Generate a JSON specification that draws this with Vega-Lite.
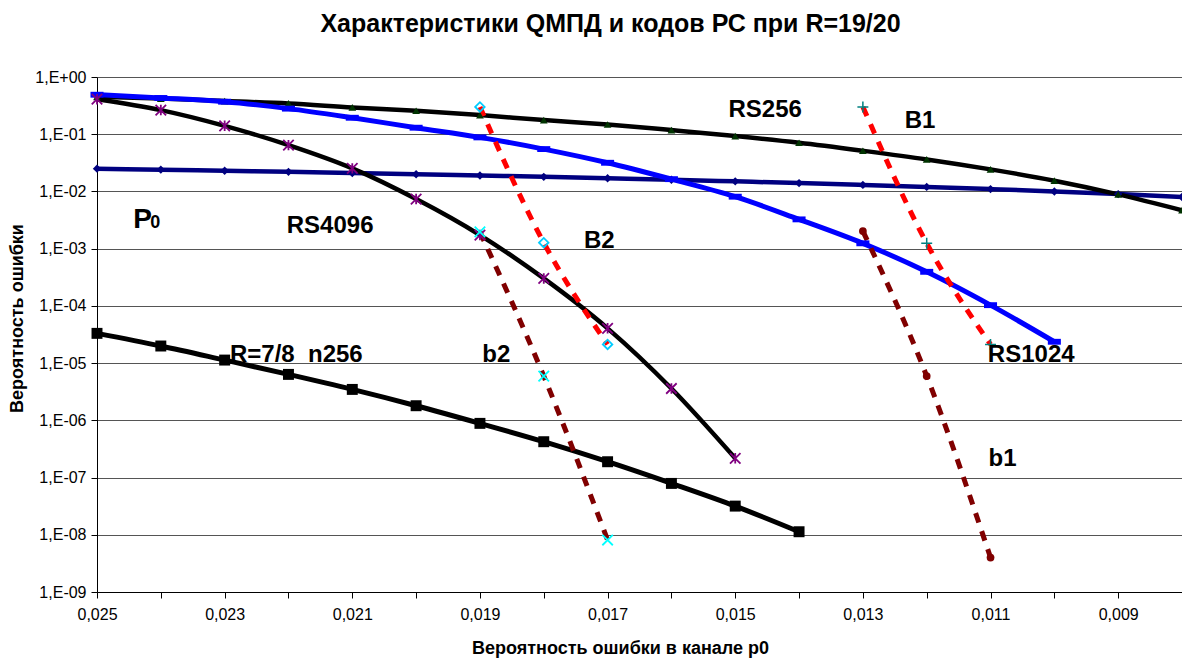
{
  "$schema": "https://vega.github.io/schema/vega-lite/v6.json",
  "width": 1085,
  "height": 515,
  "autosize": "none",
  "padding": {"left": 97, "top": 77, "right": 0, "bottom": 72},
  "background": "white",
  "title": {"text": "Характеристики QМПД и кодов РС при R=19/20", "font": "Liberation Sans", "fontSize": 25, "fontWeight": "bold", "color": "black", "anchor": "middle", "frame": "group", "dx": -29, "offset": 32},
  "config": {"view": {"stroke": null}, "font": "Liberation Sans"},
  "datasets": {
    "curves": [
      {"series": "P0", "p": 0.025, "P": 0.025}, {"series": "P0", "p": 0.024, "P": 0.024}, {"series": "P0", "p": 0.023, "P": 0.023}, {"series": "P0", "p": 0.022, "P": 0.022}, {"series": "P0", "p": 0.021, "P": 0.021}, {"series": "P0", "p": 0.020, "P": 0.020}, {"series": "P0", "p": 0.019, "P": 0.019}, {"series": "P0", "p": 0.018, "P": 0.018}, {"series": "P0", "p": 0.017, "P": 0.017}, {"series": "P0", "p": 0.016, "P": 0.016}, {"series": "P0", "p": 0.015, "P": 0.015}, {"series": "P0", "p": 0.014, "P": 0.014}, {"series": "P0", "p": 0.013, "P": 0.013}, {"series": "P0", "p": 0.012, "P": 0.012}, {"series": "P0", "p": 0.011, "P": 0.011}, {"series": "P0", "p": 0.010, "P": 0.010}, {"series": "P0", "p": 0.009, "P": 0.009}, {"series": "P0", "p": 0.008, "P": 0.008},
      {"series": "RS256", "p": 0.025, "P": 0.45}, {"series": "RS256", "p": 0.024, "P": 0.42}, {"series": "RS256", "p": 0.023, "P": 0.38}, {"series": "RS256", "p": 0.022, "P": 0.345}, {"series": "RS256", "p": 0.021, "P": 0.294}, {"series": "RS256", "p": 0.020, "P": 0.257}, {"series": "RS256", "p": 0.019, "P": 0.216}, {"series": "RS256", "p": 0.018, "P": 0.177}, {"series": "RS256", "p": 0.017, "P": 0.148}, {"series": "RS256", "p": 0.016, "P": 0.118}, {"series": "RS256", "p": 0.015, "P": 0.093}, {"series": "RS256", "p": 0.014, "P": 0.071}, {"series": "RS256", "p": 0.013, "P": 0.0514}, {"series": "RS256", "p": 0.012, "P": 0.0363}, {"series": "RS256", "p": 0.011, "P": 0.0243}, {"series": "RS256", "p": 0.010, "P": 0.0154}, {"series": "RS256", "p": 0.009, "P": 0.0089}, {"series": "RS256", "p": 0.008, "P": 0.0047},
      {"series": "RS1024", "p": 0.025, "P": 0.49}, {"series": "RS1024", "p": 0.024, "P": 0.43}, {"series": "RS1024", "p": 0.023, "P": 0.37}, {"series": "RS1024", "p": 0.022, "P": 0.28}, {"series": "RS1024", "p": 0.021, "P": 0.194}, {"series": "RS1024", "p": 0.020, "P": 0.13}, {"series": "RS1024", "p": 0.019, "P": 0.088}, {"series": "RS1024", "p": 0.018, "P": 0.055}, {"series": "RS1024", "p": 0.017, "P": 0.0317}, {"series": "RS1024", "p": 0.016, "P": 0.0164}, {"series": "RS1024", "p": 0.015, "P": 0.0081}, {"series": "RS1024", "p": 0.014, "P": 0.00325}, {"series": "RS1024", "p": 0.013, "P": 0.00124}, {"series": "RS1024", "p": 0.012, "P": 0.000394}, {"series": "RS1024", "p": 0.011, "P": 0.000103}, {"series": "RS1024", "p": 0.010, "P": 0.0000236},
      {"series": "RS4096", "p": 0.025, "P": 0.41}, {"series": "RS4096", "p": 0.024, "P": 0.264}, {"series": "RS4096", "p": 0.023, "P": 0.14}, {"series": "RS4096", "p": 0.022, "P": 0.0645}, {"series": "RS4096", "p": 0.021, "P": 0.0253}, {"series": "RS4096", "p": 0.020, "P": 0.00736}, {"series": "RS4096", "p": 0.019, "P": 0.00173}, {"series": "RS4096", "p": 0.018, "P": 0.000302}, {"series": "RS4096", "p": 0.017, "P": 0.0000405}, {"series": "RS4096", "p": 0.016, "P": 0.0000036}, {"series": "RS4096", "p": 0.015, "P": 0.000000217},
      {"series": "R78", "p": 0.025, "P": 0.0000331}, {"series": "R78", "p": 0.024, "P": 0.0000199}, {"series": "R78", "p": 0.023, "P": 0.0000113}, {"series": "R78", "p": 0.022, "P": 0.00000635}, {"series": "R78", "p": 0.021, "P": 0.00000347}, {"series": "R78", "p": 0.020, "P": 0.0000018}, {"series": "R78", "p": 0.019, "P": 0.000000885}, {"series": "R78", "p": 0.018, "P": 0.000000423}, {"series": "R78", "p": 0.017, "P": 0.000000189}, {"series": "R78", "p": 0.016, "P": 0.000000079}, {"series": "R78", "p": 0.015, "P": 0.0000000317}, {"series": "R78", "p": 0.014, "P": 0.0000000113},
      {"series": "B2", "p": 0.019, "P": 0.30}, {"series": "B2", "p": 0.018, "P": 0.00127}, {"series": "B2", "p": 0.017, "P": 0.0000212},
      {"series": "b2", "p": 0.019, "P": 0.00197}, {"series": "b2", "p": 0.018, "P": 0.00000594}, {"series": "b2", "p": 0.017, "P": 0.0000000081},
      {"series": "B1", "p": 0.013, "P": 0.30}, {"series": "B1", "p": 0.012, "P": 0.00124}, {"series": "B1", "p": 0.011, "P": 0.0000212},
      {"series": "b1", "p": 0.013, "P": 0.00203}, {"series": "b1", "p": 0.012, "P": 0.00000594}, {"series": "b1", "p": 0.011, "P": 0.000000004}
    ],
    "labels": [
      {"text": "RS256", "p": 0.015105, "P": 0.2016},
      {"text": "B1", "p": 0.012344, "P": 0.1264},
      {"text": "RS4096", "p": 0.022027, "P": 0.001873},
      {"text": "B2", "p": 0.01737, "P": 0.001012},
      {"text": "R=7/8  n256", "p": 0.022917, "P": 0.0000103},
      {"text": "b2", "p": 0.018964, "P": 0.00001056},
      {"text": "RS1024", "p": 0.011042, "P": 0.0000103},
      {"text": "b1", "p": 0.011031, "P": 0.0000001589}
    ],
    "plabel": [{"text": "P", "p": 0.024433, "P": 0.00229}],
    "zlabel": [{"text": "0", "p": 0.024167, "P": 0.00229}]
  },
  "encoding": {
    "x": {
      "field": "p", "type": "quantitative",
      "scale": {"domain": [0.008, 0.025], "reverse": true, "nice": false, "zero": false},
      "axis": {
        "values": [0.025, 0.024, 0.023, 0.022, 0.021, 0.020, 0.019, 0.018, 0.017, 0.016, 0.015, 0.014, 0.013, 0.012, 0.011, 0.010, 0.009, 0.008],
        "labelExpr": "round(datum.value*1000)%2==1 ? replace(format(datum.value,'.3f'),'.',',') : ''",
        "grid": false, "tickSize": 6, "tickColor": "black", "domainColor": "black",
        "labelFont": "Liberation Sans", "labelFontSize": 16, "labelColor": "black", "labelPadding": 8,
        "labelFlush": false, "labelOverlap": false,
        "title": "Вероятность ошибки в канале p0", "titleFont": "Liberation Sans", "titleFontSize": 18, "titleFontWeight": "bold", "titleColor": "black",
        "titleX": 523, "titleY": 56, "titleBaseline": "middle", "titleAlign": "center"
      }
    },
    "y": {
      "field": "P", "type": "quantitative",
      "scale": {"type": "log", "domain": [0.000000001, 1], "nice": false},
      "axis": {
        "values": [1, 0.1, 0.01, 0.001, 0.0001, 0.00001, 0.000001, 0.0000001, 0.00000001, 0.000000001],
        "labelExpr": "datum.value >= 0.5 ? '1,E+00' : '1,E-0' + round(-log(datum.value)/LN10)",
        "grid": true, "gridColor": "#555555", "gridWidth": 1,
        "tickSize": 6, "tickColor": "black", "domainColor": "black",
        "labelFont": "Liberation Sans", "labelFontSize": 16, "labelColor": "black", "labelPadding": 5,
        "title": "Вероятность ошибки", "titleFont": "Liberation Sans", "titleFontSize": 18, "titleFontWeight": "bold", "titleColor": "black",
        "titleX": -80, "titleY": 241, "titleAngle": -90, "titleBaseline": "middle", "titleAlign": "center"
      }
    }
  },
  "layer": [
    {"data": {"name": "curves"}, "transform": [{"filter": "datum.series == 'P0'"}], "mark": {"type": "line", "interpolate": "monotone", "color": "#000080", "strokeWidth": 4.5}, "encoding": {}},
    {"data": {"name": "curves"}, "transform": [{"filter": "datum.series == 'RS256'"}], "mark": {"type": "line", "interpolate": "monotone", "color": "black", "strokeWidth": 4.5}, "encoding": {}},
    {"data": {"name": "curves"}, "transform": [{"filter": "datum.series == 'RS1024'"}], "mark": {"type": "line", "interpolate": "monotone", "color": "#0000FF", "strokeWidth": 5}, "encoding": {}},
    {"data": {"name": "curves"}, "transform": [{"filter": "datum.series == 'RS4096'"}], "mark": {"type": "line", "interpolate": "monotone", "color": "black", "strokeWidth": 4.5}, "encoding": {}},
    {"data": {"name": "curves"}, "transform": [{"filter": "datum.series == 'R78'"}], "mark": {"type": "line", "interpolate": "monotone", "color": "black", "strokeWidth": 5}, "encoding": {}},
    {"data": {"name": "curves"}, "transform": [{"filter": "datum.series == 'B2' || datum.series == 'B1'"}], "mark": {"type": "line", "interpolate": "monotone", "color": "#FF0000", "strokeWidth": 5, "strokeDash": [10, 9]}, "encoding": {"detail": {"field": "series"}}},
    {"data": {"name": "curves"}, "transform": [{"filter": "datum.series == 'b2' || datum.series == 'b1'"}], "mark": {"type": "line", "interpolate": "monotone", "color": "#800000", "strokeWidth": 5, "strokeDash": [10, 9]}, "encoding": {"detail": {"field": "series"}}},
    {"data": {"name": "curves"}, "transform": [{"filter": "datum.series == 'P0'"}], "mark": {"type": "point", "shape": "diamond", "filled": true, "color": "#000080", "size": 70, "opacity": 1}},
    {"data": {"name": "curves"}, "transform": [{"filter": "datum.series == 'RS256'"}], "mark": {"type": "point", "shape": "triangle-up", "filled": true, "color": "#003300", "size": 60, "opacity": 1}},
    {"data": {"name": "curves"}, "transform": [{"filter": "datum.series == 'RS1024'"}], "mark": {"type": "point", "shape": "M-1,-0.45H1V0.45H-1Z", "filled": true, "color": "#0000FF", "size": 170, "opacity": 1}},
    {"data": {"name": "curves"}, "transform": [{"filter": "datum.series == 'RS4096'"}], "mark": {"type": "point", "shape": "M-1,-1L1,1M-1,1L1,-1M0,-1L0,1", "filled": false, "color": "#800080", "size": 110, "strokeWidth": 1.8, "opacity": 1}},
    {"data": {"name": "curves"}, "transform": [{"filter": "datum.series == 'R78'"}], "mark": {"type": "point", "shape": "square", "filled": true, "color": "black", "size": 120, "opacity": 1}},
    {"data": {"name": "curves"}, "transform": [{"filter": "datum.series == 'B2'"}], "mark": {"type": "point", "shape": "diamond", "filled": false, "color": "#00CCFF", "size": 90, "strokeWidth": 1.8, "opacity": 1}},
    {"data": {"name": "curves"}, "transform": [{"filter": "datum.series == 'B1'"}], "mark": {"type": "point", "shape": "M-1,0L1,0M0,-1L0,1", "filled": false, "color": "#008080", "size": 120, "strokeWidth": 1.5, "opacity": 1}},
    {"data": {"name": "curves"}, "transform": [{"filter": "datum.series == 'b2'"}], "mark": {"type": "point", "shape": "M-1,-1L1,1M-1,1L1,-1", "filled": false, "color": "#00FFFF", "size": 110, "strokeWidth": 1.8, "opacity": 1}},
    {"data": {"name": "curves"}, "transform": [{"filter": "datum.series == 'b1'"}], "mark": {"type": "point", "shape": "circle", "filled": true, "color": "#800000", "size": 60, "opacity": 1}},
    {"data": {"name": "labels"}, "transform": [{"calculate": "replace(datum.text, '  ', '\u00a0\u00a0')", "as": "shown"}], "mark": {"type": "text", "align": "left", "baseline": "alphabetic", "font": "Liberation Sans", "fontSize": 24, "fontWeight": "bold", "color": "black"}, "encoding": {"text": {"field": "shown"}}},
    {"data": {"name": "plabel"}, "mark": {"type": "text", "align": "left", "baseline": "alphabetic", "font": "Liberation Sans", "fontSize": 28, "fontWeight": "bold", "color": "black"}, "encoding": {"text": {"field": "text"}}},
    {"data": {"name": "zlabel"}, "mark": {"type": "text", "align": "left", "baseline": "alphabetic", "font": "Liberation Sans", "fontSize": 18, "fontWeight": "bold", "color": "black"}, "encoding": {"text": {"field": "text"}}}
  ]
}
